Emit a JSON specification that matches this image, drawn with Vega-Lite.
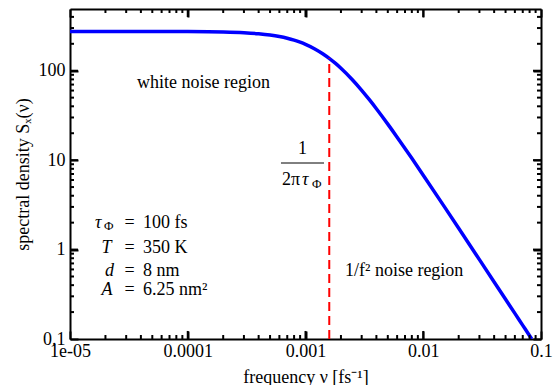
{
  "$schema": "https://vega.github.io/schema/vega-lite/v6.json",
  "width": 471,
  "height": 330,
  "autosize": {"type": "none"},
  "padding": {"left": 70, "top": 9, "right": 15, "bottom": 46},
  "background": "white",
  "config": {
    "view": {"stroke": null},
    "axis": {
      "grid": false,
      "domainColor": "black",
      "domainWidth": 2,
      "tickColor": "black",
      "tickWidth": 2,
      "labelFont": "Liberation Serif",
      "labelFontSize": 18,
      "labelColor": "black",
      "titleFont": "Liberation Serif",
      "titleFontSize": 18,
      "titleFontWeight": "normal",
      "titleColor": "black"
    }
  },
  "datasets": {
    "curve": [
      {"f": 1e-5, "S": 275}, {"f": 2e-5, "S": 275}, {"f": 5e-5, "S": 274.7},
      {"f": 1e-4, "S": 273.9}, {"f": 2e-4, "S": 270.7}, {"f": 3e-4, "S": 265.6},
      {"f": 4e-4, "S": 258.7}, {"f": 5e-4, "S": 250.3}, {"f": 6e-4, "S": 240.8},
      {"f": 7e-4, "S": 230.4}, {"f": 8e-4, "S": 219.5}, {"f": 9e-4, "S": 208.4},
      {"f": 1e-3, "S": 197.2}, {"f": 1.2e-3, "S": 175.3}, {"f": 1.4e-3, "S": 155.0},
      {"f": 1.6e-3, "S": 136.8}, {"f": 1.8e-3, "S": 120.7}, {"f": 2e-3, "S": 106.6},
      {"f": 2.5e-3, "S": 79.3}, {"f": 3e-3, "S": 60.4}, {"f": 3.5e-3, "S": 47.12},
      {"f": 4e-3, "S": 37.59}, {"f": 5e-3, "S": 25.30}, {"f": 6e-3, "S": 18.08},
      {"f": 7e-3, "S": 13.52}, {"f": 8e-3, "S": 10.47}, {"f": 1e-2, "S": 6.793},
      {"f": 1.5e-2, "S": 3.061}, {"f": 2e-2, "S": 1.731}, {"f": 3e-2, "S": 0.7718},
      {"f": 4e-2, "S": 0.4347}, {"f": 5e-2, "S": 0.2784}, {"f": 6e-2, "S": 0.1934},
      {"f": 7e-2, "S": 0.1421}, {"f": 8e-2, "S": 0.1088}, {"f": 0.0834, "S": 0.1}
    ],
    "xmaj": [{"f": 1e-4}, {"f": 1e-3}, {"f": 1e-2}],
    "xmin": [
      {"f": 2e-5}, {"f": 3e-5}, {"f": 4e-5}, {"f": 5e-5}, {"f": 6e-5}, {"f": 7e-5}, {"f": 8e-5}, {"f": 9e-5},
      {"f": 2e-4}, {"f": 3e-4}, {"f": 4e-4}, {"f": 5e-4}, {"f": 6e-4}, {"f": 7e-4}, {"f": 8e-4}, {"f": 9e-4},
      {"f": 2e-3}, {"f": 3e-3}, {"f": 4e-3}, {"f": 5e-3}, {"f": 6e-3}, {"f": 7e-3}, {"f": 8e-3}, {"f": 9e-3},
      {"f": 2e-2}, {"f": 3e-2}, {"f": 4e-2}, {"f": 5e-2}, {"f": 6e-2}, {"f": 7e-2}, {"f": 8e-2}, {"f": 9e-2}
    ],
    "ymaj": [{"v": 1}, {"v": 10}, {"v": 100}],
    "ymin": [
      {"v": 0.2}, {"v": 0.3}, {"v": 0.4}, {"v": 0.5}, {"v": 0.6}, {"v": 0.7}, {"v": 0.8}, {"v": 0.9},
      {"v": 2}, {"v": 3}, {"v": 4}, {"v": 5}, {"v": 6}, {"v": 7}, {"v": 8}, {"v": 9},
      {"v": 20}, {"v": 30}, {"v": 40}, {"v": 50}, {"v": 60}, {"v": 70}, {"v": 80}, {"v": 90},
      {"v": 200}, {"v": 300}, {"v": 400}
    ],
    "corner": [{"f": 0.0015915, "v1": 0.1, "v2": 137.5}],
    "frac": [{"f1": 6.19e-4, "f2": 1.436e-3, "v": 9.29}],
    "regularLeft": [
      {"f": 2.165e-3, "v": 0.576, "t": "1/f² noise region"},
      {"f": 4.169e-5, "v": 1.982, "t": "100 fs"},
      {"f": 4.169e-5, "v": 1.041, "t": "350 K"},
      {"f": 4.169e-5, "v": 0.576, "t": "8 nm"},
      {"f": 4.169e-5, "v": 0.3533, "t": "6.25 nm²"},
      {"f": 6.316e-4, "v": 6.0, "t": "2π"}
    ],
    "regularCenter": [
      {"f": 1.361e-4, "v": 72.9, "t": "white noise region"},
      {"f": 9.43e-4, "v": 13.33, "t": "1"},
      {"f": 3.2e-5, "v": 1.982, "t": "="},
      {"f": 3.2e-5, "v": 1.041, "t": "="},
      {"f": 3.2e-5, "v": 0.576, "t": "="},
      {"f": 3.2e-5, "v": 0.3533, "t": "="}
    ],
    "italics": [
      {"f": 1.631e-5, "v": 1.982, "t": "τ"},
      {"f": 1.852e-5, "v": 1.041, "t": "T"},
      {"f": 1.982e-5, "v": 0.576, "t": "d"},
      {"f": 1.852e-5, "v": 0.3533, "t": "A"},
      {"f": 9.33e-4, "v": 6.0, "t": "τ"}
    ],
    "subs": [
      {"f": 1.944e-5, "v": 1.835, "t": "Φ"},
      {"f": 1.136e-3, "v": 5.41, "t": "Φ"}
    ]
  },
  "resolve": {"axis": {"x": "independent", "y": "independent"}},
  "layer": [
    {
      "data": {"name": "curve"},
      "mark": {"type": "line", "color": "#0000ff", "strokeWidth": 3.5, "interpolate": "monotone", "clip": true},
      "encoding": {
        "x": {"field": "f", "type": "quantitative",
          "scale": {"type": "log", "domain": [1e-5, 0.1], "nice": false},
          "axis": {"orient": "bottom", "values": [1e-5, 1e-4, 1e-3, 1e-2, 0.1], "ticks": true, "tickSize": -8,
            "labelPadding": 11, "labelFlush": false, "labelOverlap": false,
            "labelExpr": "datum.value < 5e-5 ? '1e-05' : datum.value < 5e-4 ? '0.0001' : datum.value < 5e-3 ? '0.001' : datum.value < 5e-2 ? '0.01' : '0.1'",
            "title": "frequency ν [fs⁻¹]", "titlePadding": 8}},
        "y": {"field": "S", "type": "quantitative",
          "scale": {"type": "log", "domain": [0.1, 490], "nice": false},
          "axis": {"orient": "left", "values": [0.1, 1, 10, 100], "ticks": true, "tickSize": -8,
            "labelPadding": 13, "labelFlush": false, "labelOverlap": false,
            "labelExpr": "datum.value < 0.5 ? '0.1' : datum.value < 5 ? '1' : datum.value < 50 ? '10' : '100'",
            "title": "spectral density Sₓ(ν)", "titlePadding": 6}}
      }
    },
    {
      "data": {"name": "corner"},
      "mark": {"type": "rule", "color": "#ff0000", "strokeWidth": 2, "strokeDash": [9, 5]},
      "encoding": {
        "x": {"field": "f", "type": "quantitative",
          "scale": {"type": "log", "domain": [1e-5, 0.1], "nice": false},
          "axis": {"orient": "top", "values": [1e-5, 1e-4, 1e-3, 1e-2, 0.1], "ticks": true, "tickSize": -8, "labels": false, "title": null}},
        "y": {"field": "v1", "type": "quantitative",
          "scale": {"type": "log", "domain": [0.1, 490], "nice": false},
          "axis": {"orient": "right", "values": [0.1, 1, 10, 100], "ticks": true, "tickSize": -8, "labels": false, "title": null}},
        "y2": {"field": "v2"}
      }
    },
    {
      "data": {"name": "xmaj"},
      "mark": {"type": "rule", "color": "black", "strokeWidth": 2},
      "encoding": {
        "x": {"field": "f", "type": "quantitative", "scale": {"type": "log", "domain": [1e-5, 0.1], "nice": false}, "axis": null},
        "y": {"datum": 0.1, "type": "quantitative", "scale": {"type": "log", "domain": [0.1, 490], "nice": false}, "axis": null},
        "y2": {"datum": 0.123}
      }
    },
    {
      "data": {"name": "xmaj"},
      "mark": {"type": "rule", "color": "black", "strokeWidth": 2},
      "encoding": {
        "x": {"field": "f", "type": "quantitative", "scale": {"type": "log", "domain": [1e-5, 0.1], "nice": false}, "axis": null},
        "y": {"datum": 490, "type": "quantitative", "scale": {"type": "log", "domain": [0.1, 490], "nice": false}, "axis": null},
        "y2": {"datum": 398}
      }
    },
    {
      "data": {"name": "xmin"},
      "mark": {"type": "rule", "color": "black", "strokeWidth": 2},
      "encoding": {
        "x": {"field": "f", "type": "quantitative", "scale": {"type": "log", "domain": [1e-5, 0.1], "nice": false}, "axis": null},
        "y": {"datum": 0.1, "type": "quantitative", "scale": {"type": "log", "domain": [0.1, 490], "nice": false}, "axis": null},
        "y2": {"datum": 0.1108}
      }
    },
    {
      "data": {"name": "xmin"},
      "mark": {"type": "rule", "color": "black", "strokeWidth": 2},
      "encoding": {
        "x": {"field": "f", "type": "quantitative", "scale": {"type": "log", "domain": [1e-5, 0.1], "nice": false}, "axis": null},
        "y": {"datum": 490, "type": "quantitative", "scale": {"type": "log", "domain": [0.1, 490], "nice": false}, "axis": null},
        "y2": {"datum": 442}
      }
    },
    {
      "data": {"name": "ymaj"},
      "mark": {"type": "rule", "color": "black", "strokeWidth": 2},
      "encoding": {
        "y": {"field": "v", "type": "quantitative", "scale": {"type": "log", "domain": [0.1, 490], "nice": false}, "axis": null},
        "x": {"datum": 1e-5, "type": "quantitative", "scale": {"type": "log", "domain": [1e-5, 0.1], "nice": false}, "axis": null},
        "x2": {"datum": 1.169e-5}
      }
    },
    {
      "data": {"name": "ymaj"},
      "mark": {"type": "rule", "color": "black", "strokeWidth": 2},
      "encoding": {
        "y": {"field": "v", "type": "quantitative", "scale": {"type": "log", "domain": [0.1, 490], "nice": false}, "axis": null},
        "x": {"datum": 0.1, "type": "quantitative", "scale": {"type": "log", "domain": [1e-5, 0.1], "nice": false}, "axis": null},
        "x2": {"datum": 0.0855}
      }
    },
    {
      "data": {"name": "ymin"},
      "mark": {"type": "rule", "color": "black", "strokeWidth": 2},
      "encoding": {
        "y": {"field": "v", "type": "quantitative", "scale": {"type": "log", "domain": [0.1, 490], "nice": false}, "axis": null},
        "x": {"datum": 1e-5, "type": "quantitative", "scale": {"type": "log", "domain": [1e-5, 0.1], "nice": false}, "axis": null},
        "x2": {"datum": 1.0814e-5}
      }
    },
    {
      "data": {"name": "ymin"},
      "mark": {"type": "rule", "color": "black", "strokeWidth": 2},
      "encoding": {
        "y": {"field": "v", "type": "quantitative", "scale": {"type": "log", "domain": [0.1, 490], "nice": false}, "axis": null},
        "x": {"datum": 0.1, "type": "quantitative", "scale": {"type": "log", "domain": [1e-5, 0.1], "nice": false}, "axis": null},
        "x2": {"datum": 0.09247}
      }
    },
    {
      "data": {"name": "frac"},
      "mark": {"type": "rule", "color": "black", "strokeWidth": 1},
      "encoding": {
        "x": {"field": "f1", "type": "quantitative", "scale": {"type": "log", "domain": [1e-5, 0.1], "nice": false}, "axis": null},
        "x2": {"field": "f2"},
        "y": {"field": "v", "type": "quantitative", "scale": {"type": "log", "domain": [0.1, 490], "nice": false}, "axis": null}
      }
    },
    {
      "data": {"name": "regularLeft"},
      "mark": {"type": "text", "align": "left", "baseline": "middle", "font": "Liberation Serif", "fontSize": 18, "color": "black"},
      "encoding": {
        "x": {"field": "f", "type": "quantitative", "scale": {"type": "log", "domain": [1e-5, 0.1], "nice": false}, "axis": null},
        "y": {"field": "v", "type": "quantitative", "scale": {"type": "log", "domain": [0.1, 490], "nice": false}, "axis": null},
        "text": {"field": "t"}
      }
    },
    {
      "data": {"name": "regularCenter"},
      "mark": {"type": "text", "align": "center", "baseline": "middle", "font": "Liberation Serif", "fontSize": 18, "color": "black"},
      "encoding": {
        "x": {"field": "f", "type": "quantitative", "scale": {"type": "log", "domain": [1e-5, 0.1], "nice": false}, "axis": null},
        "y": {"field": "v", "type": "quantitative", "scale": {"type": "log", "domain": [0.1, 490], "nice": false}, "axis": null},
        "text": {"field": "t"}
      }
    },
    {
      "data": {"name": "italics"},
      "mark": {"type": "text", "align": "left", "baseline": "middle", "font": "Liberation Serif", "fontStyle": "italic", "fontSize": 18, "color": "black"},
      "encoding": {
        "x": {"field": "f", "type": "quantitative", "scale": {"type": "log", "domain": [1e-5, 0.1], "nice": false}, "axis": null},
        "y": {"field": "v", "type": "quantitative", "scale": {"type": "log", "domain": [0.1, 490], "nice": false}, "axis": null},
        "text": {"field": "t"}
      }
    },
    {
      "data": {"name": "subs"},
      "mark": {"type": "text", "align": "left", "baseline": "middle", "font": "Liberation Serif", "fontSize": 13, "color": "black"},
      "encoding": {
        "x": {"field": "f", "type": "quantitative", "scale": {"type": "log", "domain": [1e-5, 0.1], "nice": false}, "axis": null},
        "y": {"field": "v", "type": "quantitative", "scale": {"type": "log", "domain": [0.1, 490], "nice": false}, "axis": null},
        "text": {"field": "t"}
      }
    }
  ]
}
